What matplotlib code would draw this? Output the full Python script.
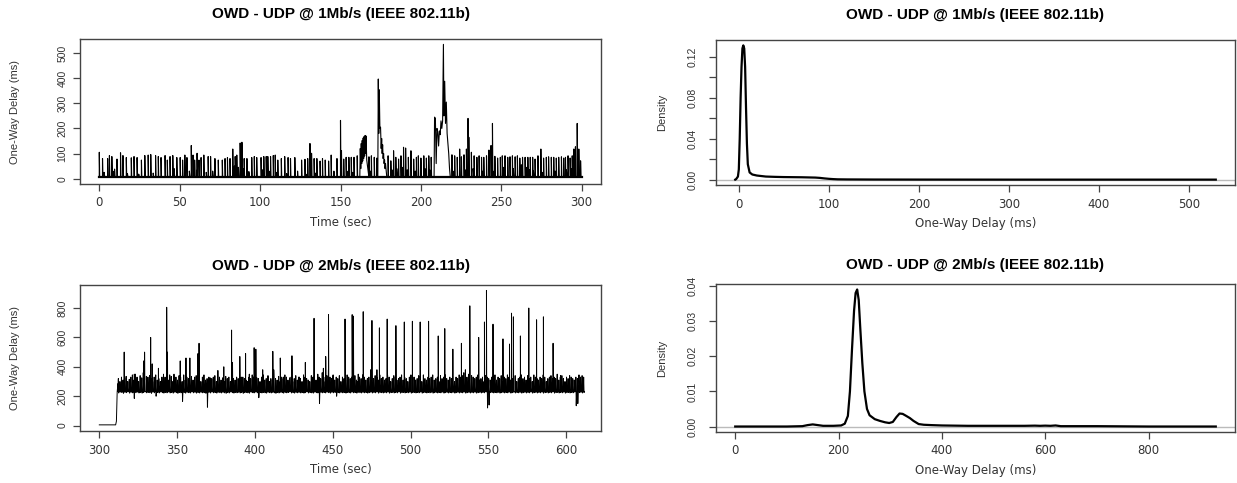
import numpy as np
import matplotlib
matplotlib.use('Agg')
import matplotlib.pyplot as plt
from matplotlib import font_manager as fm

# ---------------- data ----------------
# 1 Mb/s run: baseline delay and spikes (time s, delay ms)
owd1_base = 5
owd1_spike_t = [0, 2, 5.2, 6.3, 7.8, 9.5, 11, 13.2, 14.7, 16.8, 19.9, 21.6, 23.5, 26.2, 28.3,
                30.4, 32, 35, 36.7, 38.4, 40.9, 42.3, 44, 45.7, 48.2, 50.3, 51.8, 53.2, 54.5,
                57.2, 58.3, 59.3, 60.8, 62, 63.3, 65, 67.7, 69.2, 71.9, 74, 76.5, 78.2, 79.7,
                81.3, 83, 84.5, 85.5, 87.6, 88.7, 90.1, 91.8, 94.8, 96.4, 97.9, 100.6, 102.3,
                103.8, 104.8, 106.5, 108.2, 109.4, 111, 113.2, 115.3, 117.4, 118.9, 121.6,
                123.3, 125.8, 127.9, 129.6, 131, 132, 133.6, 135.3, 137.3, 138.8, 140.5, 142.6,
                144.2, 145.9, 147.8, 150, 150.6, 152, 153.5, 155.2, 156.7, 158.4, 160.4,
                167.7, 169.2, 171, 172.6, 179.6, 181.3, 183, 184.4, 186.1, 187.6, 189.2, 190.5,
                192.2, 193.8, 195.5, 197.2, 198.4, 200, 201.8, 203.4, 204.9, 206.4,
                219.3, 221, 222.6, 224.1, 225.2, 226.8, 228.3, 229.3, 229.8, 231.4, 233.1,
                234.8, 236.2, 237.7, 239.1, 240.8, 242.3, 243.6, 244.5, 246, 247.7, 249.4,
                250.6, 252.3, 254, 255.4, 256.9, 258.6, 260, 261.5, 263.2, 264.8, 266.5, 268,
                269.5, 271, 272.8, 274.6, 276.3, 278, 279.4, 281.1, 282.6, 284.2, 285.7, 287.4,
                288.8, 289.9, 291.5, 292.8, 294.1, 295.1, 296.1, 297.2, 298.2, 299.3]
owd1_spike_ms = [105, 80, 80, 92, 88, 38, 78, 103, 92, 84, 83, 88, 84, 74, 92,
                 94, 96, 92, 88, 84, 92, 74, 88, 92, 84, 84, 74, 94, 84,
                 132, 94, 74, 101, 74, 84, 94, 88, 88, 80, 74, 74, 80, 84,
                 80, 118, 88, 94, 142, 145, 80, 80, 84, 88, 84, 84, 88,
                 88, 88, 88, 92, 94, 74, 80, 88, 84, 80, 84,
                 30, 74, 77, 80, 140, 101, 80, 80, 70, 80, 74, 70,
                 94, 30, 80, 232, 112, 78, 85, 85, 85, 85, 91,
                 87, 91, 85, 82, 91, 71, 111, 85, 78, 91, 125, 122,
                 85, 111, 78, 85, 91, 82, 91, 82, 91, 85,
                 95, 91, 85, 118, 87, 95, 118, 240, 165, 105, 91,
                 85, 91, 85, 85, 91, 114, 132, 220, 89, 82, 85,
                 91, 91, 85, 87, 91, 87, 91, 82, 85, 85, 85, 85,
                 85, 78, 91, 118, 82, 85, 87, 85, 85, 82, 85, 87,
                 82, 85, 91, 82, 91, 118, 127, 220, 118, 71]
# small secondary bumps near the floor (time s, delay ms)
owd1_low_t = [3, 8.5, 17.5, 24.5, 33.5, 46.5, 56, 61, 66.5, 70.5, 84, 86.5, 89.5, 93, 101.5,
              105.5, 110, 116.5, 128.5, 134.5, 154, 157.5, 168.5, 182, 185, 188.5, 191.5,
              196.5, 202.5, 205.5, 220, 227.5, 232.5, 238.5, 245.5, 251.5, 257.5, 262.5,
              265.5, 267.5, 270, 275.5, 283.5, 290.5, 293.5]
owd1_low_ms = [25, 30, 20, 18, 22, 40, 30, 35, 25, 30, 50, 45, 40, 28, 35,
               30, 25, 20, 18, 22, 30, 25, 30, 35, 40, 45, 35,
               30, 40, 35, 30, 35, 40, 30, 30, 45, 40, 55, 45, 35, 30, 25, 30, 35, 40]
# bursts where the delay does not fall back to the baseline
owd1_burst_t = [162.0, 162.3, 162.6, 162.9, 163.2, 163.5, 163.8, 164.1, 164.4, 164.7, 165.0,
                165.3, 165.6, 165.9, 166.3,
                173.2, 173.5, 173.8, 174.1, 174.5, 174.9, 175.3, 175.6, 175.9, 176.2, 176.5,
                176.8, 177.1, 177.4, 177.7, 178.0, 178.4, 178.8,
                208.2, 208.5, 209.0, 209.5, 210.0, 210.5, 211.0, 211.5, 212.0, 212.5, 213.0,
                213.5, 214.0, 214.3, 214.8, 215.3, 215.8, 216.3, 216.8, 217.3, 217.8, 218.3]
owd1_burst_ms = [5, 120, 40, 140, 60, 152, 70, 162, 80, 168, 90, 172, 100, 170, 75,
                 5, 397, 180, 354, 200, 205, 120, 160, 100, 135, 80, 100, 60, 75, 40, 60, 30, 5,
                 5, 245, 240, 60, 200, 185, 130, 190, 175, 230, 200,
                 230, 535, 250, 388, 220, 305, 180, 140, 100, 40, 5]

# 2 Mb/s run
owd2_base = 232
owd2_start_t = [300, 310.5, 311.0, 311.5, 312.0, 312.3]
owd2_start_ms = [5, 5, 30, 232, 285, 232]
owd2_band_t0 = 312          # one band sample per second from here
owd2_band_ms = [320, 300, 330, 310, 325, 335, 300, 315, 330, 345,
                310, 350, 330, 300, 340, 325, 360, 310, 335, 330,
                340, 320, 300, 330, 345, 310, 320, 300, 330, 350,
                330, 320, 310, 345, 335, 300, 325, 330, 310, 340,
                330, 300, 345, 310, 330, 320, 300, 335, 310, 330,
                340, 330, 320, 300, 330, 345, 310, 320, 300, 325,
                320, 330, 340, 300, 320, 330, 310, 325, 300, 335,
                320, 330, 300, 345, 320, 310, 330, 320, 300, 330,
                330, 320, 310, 300, 330, 320, 345, 330, 310, 325,
                320, 300, 330, 345, 310, 320, 330, 300, 320, 310,
                330, 320, 310, 335, 300, 330, 320, 345, 330, 310,
                325, 330, 300, 320, 340, 310, 330, 320, 300, 345,
                330, 320, 310, 300, 340, 330, 320, 310, 345, 330,
                320, 360, 330, 300, 340, 380, 330, 320, 345, 310,
                330, 320, 340, 300, 330, 320, 310, 345, 330, 320,
                330, 320, 340, 310, 300, 330, 320, 345, 330, 310,
                320, 330, 300, 380, 320, 340, 330, 310, 345, 320,
                330, 310, 320, 345, 330, 300, 320, 340, 330, 310,
                320, 330, 345, 310, 330, 320, 300, 330, 345, 320,
                330, 310, 320, 340, 330, 300, 345, 320, 310, 330,
                320, 330, 345, 310, 320, 330, 300, 340, 320, 330,
                345, 320, 310, 330, 320, 340, 300, 330, 320, 345,
                330, 340, 360, 380, 330, 350, 320, 340, 330, 320,
                330, 345, 310, 320, 330, 300, 340, 330, 320, 310,
                330, 320, 345, 310, 330, 320, 340, 300, 330, 320,
                345, 330, 310, 320, 330, 340, 300, 320, 330, 345,
                320, 330, 310, 340, 320, 330, 300, 345, 330, 320,
                310, 330, 320, 345, 330, 300, 320, 330, 340, 320,
                330, 320, 350, 310, 330, 340, 320, 300, 330, 320,
                340, 330, 320, 310, 330, 320, 345, 330, 340, 330]
# per-second floor of the band (lowest delay within each second)
owd2_floor_ms = [222, 228, 225, 220, 226, 224, 229, 221, 227, 223,
                 185, 224, 228, 222, 226, 221, 225, 229, 223, 226,
                 224, 220, 227, 223, 200, 225, 222, 228, 224, 221,
                 226, 223, 229, 222, 225, 221, 227, 224, 220, 226,
                 223, 165, 225, 221, 227, 224, 222, 228, 223, 226,
                 221, 225, 222, 227, 223, 224, 220, 125, 226, 222,
                 228, 223, 225, 221, 227, 224, 222, 226, 223, 220,
                 225, 222, 228, 224, 221, 226, 223, 227, 222, 225,
                 220, 224, 226, 223, 221, 227, 224, 222, 228, 223,
                 190, 225, 222, 226, 223, 221, 227, 224, 222, 226,
                 223, 220, 225, 222, 227, 224, 221, 226, 223, 225,
                 228, 222, 224, 221, 226, 223, 227, 222, 225, 221,
                 224, 228, 222, 225, 223, 221, 227, 224, 222, 150,
                 226, 223, 225, 222, 228, 224, 221, 226, 223, 225,
                 200, 224, 222, 227, 223, 225, 221, 226, 224, 222,
                 228, 223, 225, 221, 227, 224, 222, 226, 223, 225,
                 221, 224, 227, 222, 225, 223, 228, 221, 226, 224,
                 222, 225, 223, 227, 221, 224, 226, 222, 225, 223,
                 228, 221, 224, 226, 222, 225, 223, 227, 221, 224,
                 226, 222, 225, 223, 228, 221, 224, 226, 222, 225,
                 223, 227, 221, 224, 226, 222, 225, 223, 228, 221,
                 224, 226, 222, 225, 223, 227, 221, 224, 226, 222,
                 225, 223, 228, 221, 224, 226, 222, 225, 223, 227,
                 221, 224, 226, 222, 225, 223, 228, 120, 140, 224,
                 226, 222, 225, 223, 227, 221, 224, 226, 222, 225,
                 223, 228, 221, 224, 226, 222, 225, 223, 227, 221,
                 224, 226, 222, 225, 223, 228, 221, 224, 226, 222,
                 225, 223, 227, 221, 224, 226, 222, 225, 223, 228,
                 221, 224, 226, 222, 225, 223, 227, 221, 224, 226,
                 222, 225, 223, 228, 135, 150, 224, 226, 222, 225]
owd2_spike_t = [316, 322.5, 328.5, 329.1, 333, 334, 338, 343.3, 343.8, 348, 352, 355.7, 358.2,
                363.4, 364.1, 370.4, 376.2, 380, 385, 385.6, 390.3, 394, 396.4, 399.5, 400.6,
                405, 408.4, 411.5, 412.1, 416.3, 418.4, 423.8, 428.4, 432.4, 438, 440.4, 444,
                445.5, 447.3, 450.4, 457.9, 462.5, 463.3, 466.4, 469.6, 474.4, 475.2, 478.4,
                480, 485, 490.6, 496, 501.2, 506.2, 511.6, 517.8, 522, 527.2, 532.7, 538.1,
                543.8, 547.5, 548.8, 553, 559.4, 563.6, 564.9, 566.1, 570.6, 576, 581,
                585.4, 591.6, 596.4]
owd2_spike_ms = [500, 350, 440, 500, 600, 420, 390, 805, 500, 350, 440, 460, 460,
                 490, 560, 330, 375, 400, 650, 430, 470, 490, 350, 530, 520,
                 380, 340, 505, 380, 460, 330, 475, 330, 430, 730, 350, 390,
                 470, 755, 340, 725, 755, 745, 350, 775, 380, 715, 380,
                 665, 725, 680, 705, 710, 705, 710, 610, 660, 520, 560, 815,
                 600, 705, 920, 690, 590, 555, 765, 740, 610, 800, 720,
                 740, 560, 340]

# kernel density estimates of the two runs
dens1_x = [-4, -3, -1, 0, 1, 2, 3, 4, 5, 6, 7, 8, 9, 10, 12, 15, 20, 30, 40, 50, 60, 70,
           80, 85, 90, 95, 100, 105, 110, 120, 150, 200, 300, 400, 500, 530]
dens1_y = [0, 0.0005, 0.003, 0.01, 0.04, 0.08, 0.11, 0.128, 0.131, 0.128, 0.11, 0.07, 0.035,
           0.015, 0.007, 0.005, 0.004, 0.003, 0.0027, 0.0025, 0.0024, 0.0023, 0.0021, 0.002,
           0.0017, 0.0012, 0.0008, 0.0005, 0.0003, 0.0002, 0.0001, 0.00005, 0, 0, 0, 0]
dens2_x = [0, 100, 130, 140, 150, 160, 170, 190, 205, 212, 218, 222, 226, 230, 233, 236, 239,
           242, 246, 250, 255, 260, 270, 280, 290, 298, 305, 312, 318, 324, 330, 338, 345,
           355, 365, 380, 400, 450, 500, 560, 580, 590, 600, 610, 620, 630, 700, 800, 930]
dens2_y = [0, 0, 0.0001, 0.0004, 0.0006, 0.0004, 0.0002, 0.0002, 0.0003, 0.0008, 0.003, 0.01,
           0.022, 0.033, 0.038, 0.039, 0.036, 0.028, 0.018, 0.010, 0.005, 0.0032, 0.0021,
           0.0016, 0.0012, 0.0010, 0.0013, 0.0027, 0.0037, 0.0036, 0.0031, 0.0024, 0.0016,
           0.0007, 0.0005, 0.0004, 0.0003, 0.0002, 0.0002, 0.0002, 0.00025, 0.0002, 0.00025,
           0.0002, 0.0003, 0.0001, 0.0001, 0, 0]

title1 = "OWD - UDP @ 1Mb/s (IEEE 802.11b)"
title2 = "OWD - UDP @ 2Mb/s (IEEE 802.11b)"
time_label = "Time (sec)"
owd_label = "One-Way Delay (ms)"
dens_label = "Density"


# ---------------- helpers ----------------
def spike_series(base, spike_t, spike_v, extra_t=(), extra_v=(), width=0.25):
    pts = []
    for t, v in zip(spike_t, spike_v):
        pts += [(t - 0.02, base), (t, v), (t + width, base)]
    pts += list(zip(extra_t, extra_v))
    pts.sort(key=lambda p: p[0])
    return np.array([p[0] for p in pts]), np.array([p[1] for p in pts])


def r_lim(lo, hi):
    pad = 0.04 * (hi - lo)
    return lo - pad, hi + pad


names = {f.name for f in fm.fontManager.ttflist}
narrow = 'Liberation Sans' if 'Liberation Sans' in names else 'DejaVu Sans'
wide = 'DejaVu Sans'
title_font = 'Liberation Sans' if 'Liberation Sans' in names else 'DejaVu Sans'

frame_c = '#444444'
text_c = '#333333'

fig = plt.figure(figsize=(12.37, 4.83), dpi=100)
W, H = 1237, 483


def make_ax(l, r, t, b):
    return fig.add_axes([l / W, 1 - b / H, (r - l) / W, (b - t) / H])


ax_tl = make_ax(80, 601, 39, 184)
ax_tr = make_ax(716, 1235, 40, 185)
ax_bl = make_ax(80, 601, 285, 431)
ax_br = make_ax(716, 1235, 284, 432)


def style(ax, xticks, yticks, ylabels, ylab, xlab, ylab_x, ypad):
    for s in ax.spines.values():
        s.set_color(frame_c)
        s.set_linewidth(1.0)
    ax.set_xticks(xticks)
    ax.set_xticklabels([str(v) for v in xticks], fontfamily=wide, fontsize=8.5, color=text_c)
    ax.set_yticks(yticks)
    ax.set_yticklabels(ylabels, fontfamily=narrow, fontsize=7.5, color=text_c,
                       rotation=90, va='center')
    ax.tick_params(axis='both', length=5, width=0.9, color=frame_c)
    ax.tick_params(axis='x', pad=4)
    ax.tick_params(axis='y', pad=ypad)
    ax.set_xlabel(xlab, fontfamily=wide, fontsize=8.5, color=text_c, labelpad=5)
    ax.set_ylabel(ylab, fontfamily=narrow, fontsize=8, color=text_c)
    ax.yaxis.set_label_coords(ylab_x, 0.5)


def add_title(ax, txt, pad):
    ax.set_title(txt, fontfamily=title_font, fontweight='heavy', fontsize=11, pad=pad)


# top-left: time series 1 Mb/s
lt, lv = spike_series(owd1_base, owd1_low_t, owd1_low_ms, width=0.4)
t1, v1 = spike_series(owd1_base, owd1_spike_t, owd1_spike_ms,
                      list(owd1_burst_t) + list(lt), list(owd1_burst_ms) + list(lv))
ax_tl.plot(t1, v1, color='black', lw=0.8)
ax_tl.plot([0, 300], [owd1_base, owd1_base], color='black', lw=1.6)
ax_tl.set_xlim(*r_lim(0, 300))
ax_tl.set_ylim(*r_lim(0, max(owd1_burst_ms)))
style(ax_tl, [0, 50, 100, 150, 200, 250, 300], [0, 100, 200, 300, 400, 500],
      ['0', '100', '200', '300', '400', '500'], owd_label, time_label, -0.115, 4)
add_title(ax_tl, title1, 15)

# bottom-left: time series 2 Mb/s
n_band = len(owd2_band_ms)
pts = list(zip(owd2_start_t, owd2_start_ms))
for i in range(n_band):
    t0 = owd2_band_t0 + i
    pts += [(t0 + 0.05, owd2_base), (t0 + 0.25, owd2_band_ms[i]),
            (t0 + 0.5, owd2_floor_ms[i]), (t0 + 0.75, owd2_base)]
for t, v in zip(owd2_spike_t, owd2_spike_ms):
    pts += [(t - 0.02, owd2_base), (t, v), (t + 0.15, owd2_base)]
pts.sort(key=lambda p: p[0])
ax_bl.plot([p[0] for p in pts], [p[1] for p in pts], color='black', lw=0.7)
ax_bl.set_xlim(*r_lim(300, 610))
ax_bl.set_ylim(*r_lim(0, max(owd2_spike_ms)))
style(ax_bl, [300, 350, 400, 450, 500, 550, 600], [0, 200, 400, 600, 800],
      ['0', '200', '400', '600', '800'], owd_label, time_label, -0.115, 4)
add_title(ax_bl, title2, 11)

# top-right: density 1 Mb/s
ax_tr.axhline(0, color='#bbbbbb', lw=1.0)
ax_tr.plot(dens1_x, dens1_y, color='black', lw=1.6)
ax_tr.set_xlim(*r_lim(min(dens1_x), max(dens1_x)))
ax_tr.set_ylim(*r_lim(0, max(dens1_y)))
style(ax_tr, [0, 100, 200, 300, 400, 500], [0, 0.02, 0.04, 0.06, 0.08, 0.10, 0.12],
      ['0.00', '', '0.04', '', '0.08', '', '0.12'], dens_label, owd_label, -0.095, 8)
add_title(ax_tr, title1, 15)

# bottom-right: density 2 Mb/s
ax_br.axhline(0, color='#bbbbbb', lw=1.0)
ax_br.plot(dens2_x, dens2_y, color='black', lw=1.6)
ax_br.set_xlim(*r_lim(min(dens2_x), max(dens2_x)))
ax_br.set_ylim(*r_lim(0, max(dens2_y)))
style(ax_br, [0, 200, 400, 600, 800], [0, 0.01, 0.02, 0.03, 0.04],
      ['0.00', '0.01', '0.02', '0.03', '0.04'], dens_label, owd_label, -0.095, 8)
add_title(ax_br, title2, 11)

fig.savefig('out.png', dpi=100)
